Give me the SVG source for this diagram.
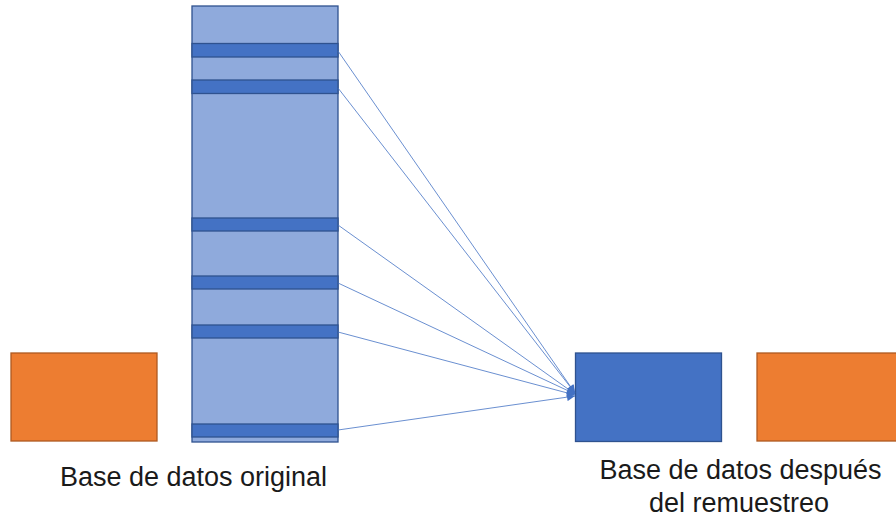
<svg xmlns="http://www.w3.org/2000/svg" width="896" height="518" viewBox="0 0 896 518">
<style>
.seg{fill:#8FAADC;stroke:#2F528F;stroke-width:1.3}
.sel{fill:#4472C4;stroke:#2F528F;stroke-width:1.3}
.org{fill:#ED7D31;stroke:#AE5A21;stroke-width:1.3}
.blu{fill:#4472C4;stroke:#2F528F;stroke-width:1.3}
.lnk{stroke:#4472C4;stroke-width:0.8;fill:none;marker-end:url(#ah)}
</style>
<defs>
<marker id="ah" viewBox="0 0 10 10" refX="10" refY="5" markerWidth="10" markerHeight="8" markerUnits="userSpaceOnUse" orient="auto">
<path d="M0,0 L10,5 L0,10 z" fill="#4472C4"/>
</marker>
</defs>
<rect width="896" height="518" fill="#ffffff"/>
<g id="orange-left"><rect class="org" x="11" y="353" width="146" height="88"/></g>
<g id="original-db">
<rect class="seg" x="192" y="6" width="146" height="436"/>
<rect class="sel" x="192" y="43.5" width="146" height="13.5"/>
<rect class="sel" x="192" y="80" width="146" height="13.5"/>
<rect class="sel" x="192" y="218" width="146" height="13"/>
<rect class="sel" x="192" y="276" width="146" height="13"/>
<rect class="sel" x="192" y="325" width="146" height="13"/>
<rect class="sel" x="192" y="424" width="146" height="13"/>
</g>
<g id="resampled-db"><rect class="blu" x="575.5" y="353" width="146" height="88.5"/></g>
<g id="orange-right"><rect class="org" x="757" y="353" width="145" height="88"/></g>
<g id="connectors">
<line class="lnk" x1="338" y1="51" x2="575" y2="393"/>
<line class="lnk" x1="338" y1="88" x2="575" y2="393"/>
<line class="lnk" x1="338" y1="225" x2="575" y2="394"/>
<line class="lnk" x1="338" y1="283" x2="575" y2="394"/>
<line class="lnk" x1="338" y1="332" x2="575" y2="395"/>
<line class="lnk" x1="338" y1="430" x2="575" y2="396"/>
</g>
<g id="labels" font-family="Liberation Sans, Arial, sans-serif" font-size="27" fill="#1a1a1a" text-anchor="middle">
<text x="193.5" y="486">Base de datos original</text>
<text x="740.5" y="479">Base de datos después</text>
<text x="739" y="512">del remuestreo</text>
</g>
</svg>
